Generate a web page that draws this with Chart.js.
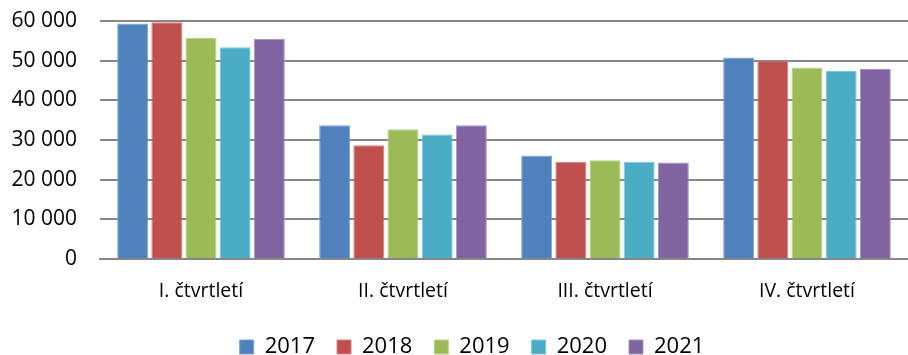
<!DOCTYPE html>
<html lang="cs">
<head>
<meta charset="utf-8">
<title>Čtvrtletí 2017–2021</title>
<script src="https://cdn.jsdelivr.net/npm/chart.js@4.4.1/dist/chart.umd.min.js"></script>
<style>
  html, body { margin: 0; padding: 0; background: #fff; }
  #wrap { position: relative; width: 908px; height: 355px; }
</style>
</head>
<body>
<div id="wrap"><canvas id="quarterChart"></canvas></div>
<script>
const quarters = ['I. čtvrtletí', 'II. čtvrtletí', 'III. čtvrtletí', 'IV. čtvrtletí'];
const years = ['2017', '2018', '2019', '2020', '2021'];

const values2017 = [59400, 33700, 26100, 50800];
const values2018 = [59700, 28700, 24500, 50000];
const values2019 = [55700, 32700, 24900, 48300];
const values2020 = [53400, 31400, 24500, 47400];
const values2021 = [55500, 33700, 24300, 47900];

const yTicks = [0, 10000, 20000, 30000, 40000, 50000, 60000];

const seriesValues = [values2017, values2018, values2019, values2020, values2021];
const fills = ['#4F81BD', '#C0504D', '#9BBB59', '#4BACC6', '#8064A2'];
const edges = ['#7FA2CF', '#D48482', '#B9D08A', '#81C6D8', '#A691BE'];

const gridGray = '#878787';
const fontFamily = '"Open Sans", "Liberation Sans", sans-serif';

// thousands separated by a space: 60 000
function spaced(v) {
  return String(v).replace(/\B(?=(\d{3})+(?!\d))/g, ' ');
}

// move the bottom legend a little right and down
const legendShift = {
  id: 'legendShift',
  afterLayout(chart) {
    const lg = chart.legend;
    if (!lg) return;
    lg.left += 18;
    lg.right += 18;
    lg.top += 13;
    lg.bottom += 13;
  }
};

const ctx = document.getElementById('quarterChart').getContext('2d');
new Chart(ctx, {
  type: 'bar',
  data: {
    labels: quarters,
    datasets: years.map((y, i) => ({
      label: y,
      data: seriesValues[i],
      backgroundColor: fills[i],
      borderColor: edges[i],
      borderWidth: 1,
      barPercentage: 0.91,
      categoryPercentage: 0.845
    }))
  },
  options: {
    responsive: true,
    maintainAspectRatio: false,
    animation: false,
    layout: { padding: 0 },
    scales: {
      x: {
        afterFit(scale) {
          scale.height = 42;
        },
        grid: { display: false, drawTicks: false },
        border: { display: true, color: gridGray, width: 2 },
        ticks: {
          color: '#000',
          padding: 21,
          font: { family: fontFamily, size: 19.5 }
        }
      },
      y: {
        min: 0,
        max: 60000,
        afterBuildTicks(scale) {
          scale.ticks = yTicks.map(v => ({ value: v }));
        },
        afterFit(scale) {
          scale.width = 100;
          scale.paddingTop = 21;
        },
        grid: { color: gridGray, lineWidth: 2, drawTicks: false },
        border: { display: false },
        ticks: {
          color: '#000',
          padding: 23,
          font: { family: fontFamily, size: 21 },
          callback: v => spaced(v)
        }
      }
    },
    plugins: {
      legend: {
        position: 'bottom',
        labels: {
          boxWidth: 14,
          boxHeight: 14,
          padding: 22,
          color: '#000',
          font: { family: fontFamily, size: 22 }
        }
      },
      tooltip: { enabled: false }
    }
  },
  plugins: [legendShift]
});
</script>
</body>
</html>
